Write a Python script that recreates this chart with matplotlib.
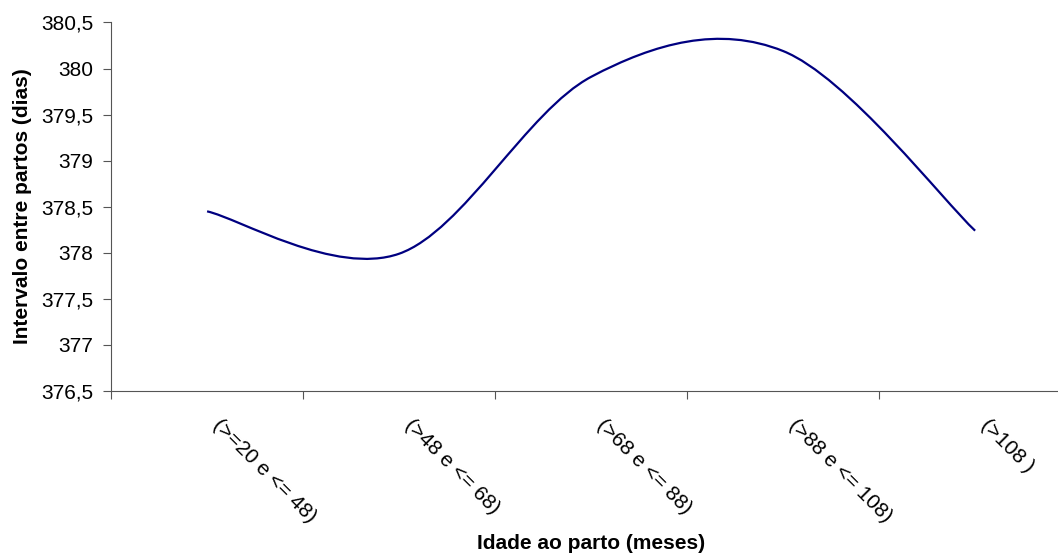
import numpy as np
import matplotlib
matplotlib.use("Agg")
import matplotlib.pyplot as plt
from matplotlib.path import Path
from matplotlib.patches import PathPatch
from matplotlib.ticker import FuncFormatter, FixedLocator

plt.rcParams['font.family'] = ['Liberation Sans', 'DejaVu Sans']

# Dados
categorias = ['(>=20 e <= 48)', '(>48 e <= 68)', '(>68 e <= 88)', '(>88 e <= 108)', '(>108 )']
intervalo = [378.45, 377.99, 379.91, 380.19, 378.24]

fig = plt.figure(figsize=(10.58, 5.55), dpi=100)
ax = fig.add_axes([0.105, 0.2955, 0.9074, 0.664])

# curva suavizada (bezier estilo Excel) passando pelos pontos
x = np.arange(len(intervalo), dtype=float)
y = np.array(intervalo)
verts = [(x[0], y[0])]
codes = [Path.MOVETO]
n = len(x)
for i in range(n - 1):
    p0 = max(i - 1, 0)
    p3 = min(i + 2, n - 1)
    c1 = (x[i] + (x[i + 1] - x[p0]) / 6, y[i] + (y[i + 1] - y[p0]) / 6)
    c2 = (x[i + 1] - (x[p3] - x[i]) / 6, y[i + 1] - (y[p3] - y[i]) / 6)
    verts += [c1, c2, (x[i + 1], y[i + 1])]
    codes += [Path.CURVE4] * 3
ax.add_patch(PathPatch(Path(verts, codes), facecolor='none', edgecolor='#000080', lw=1.6))

ax.set_xlim(-0.5, len(categorias) - 0.5)
ax.set_ylim(376.5, 380.5)
ax.set_yticks(np.arange(376.5, 380.51, 0.5))
ax.yaxis.set_major_formatter(FuncFormatter(lambda v, p: ('%g' % v).replace('.', ',')))

# marcas entre categorias
ax.xaxis.set_major_locator(FixedLocator(np.arange(-0.5, len(categorias), 1.0)))
ax.set_xticklabels([])
for i, c in enumerate(categorias):
    ax.text(i + 0.045, -0.085, c, transform=ax.get_xaxis_transform(), rotation=-45,
            ha='left', va='center', rotation_mode='anchor', fontsize=15)

for s in ['top', 'right']:
    ax.spines[s].set_visible(False)
for s in ['left', 'bottom']:
    ax.spines[s].set_color('#555555')
ax.tick_params(axis='both', direction='out', length=6, color='#555555', labelsize=15)
ax.tick_params(axis='y', pad=7)

fig.text(0.021, 0.629, 'Intervalo entre partos (dias)', rotation=90, ha='center', va='center',
         fontsize=15, fontweight='bold')
fig.text(0.5586, 0.004, 'Idade ao parto (meses)', ha='center', va='bottom', fontsize=15, fontweight='bold')

plt.savefig('out.png', dpi=100)
